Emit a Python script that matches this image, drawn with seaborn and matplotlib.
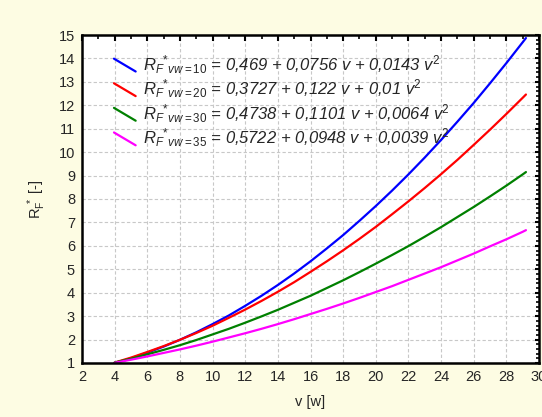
import numpy as np
import pandas as pd
import matplotlib
matplotlib.use("Agg")
import matplotlib.pyplot as plt
from matplotlib.lines import Line2D
from matplotlib.legend_handler import HandlerBase
from matplotlib.ticker import MultipleLocator
import seaborn as sns

# Valores (v de 4 a 29.2)
v = [4, 5, 6, 7, 8, 9, 10, 11, 12, 13, 14, 15, 16, 17, 18, 19, 20,
     21, 22, 23, 24, 25, 26, 27, 28, 29, 29.2]

rf_vw10 = [1.00, 1.20, 1.44, 1.70, 1.99, 2.31, 2.66, 3.03, 3.44, 3.87, 4.33,
           4.82, 5.34, 5.89, 6.46, 7.07, 7.70, 8.36, 9.05, 9.77, 10.52, 11.30,
           12.10, 12.94, 13.80, 14.69, 14.87]
rf_vw20 = [1.02, 1.23, 1.47, 1.72, 1.99, 2.28, 2.59, 2.93, 3.28, 3.65, 4.04,
           4.45, 4.89, 5.34, 5.81, 6.30, 6.81, 7.35, 7.90, 8.47, 9.06, 9.67,
           10.31, 10.96, 11.63, 12.32, 12.46]
rf_vw30 = [1.02, 1.18, 1.37, 1.56, 1.76, 1.98, 2.22, 2.46, 2.72, 2.99, 3.27,
           3.57, 3.87, 4.20, 4.53, 4.88, 5.24, 5.61, 5.99, 6.39, 6.80, 7.23,
           7.66, 8.11, 8.57, 9.05, 9.15]
rf_vw35 = [1.01, 1.14, 1.28, 1.43, 1.58, 1.74, 1.91, 2.09, 2.27, 2.46, 2.66,
           2.87, 3.09, 3.31, 3.54, 3.78, 4.03, 4.28, 4.55, 4.82, 5.09, 5.38,
           5.67, 5.98, 6.28, 6.60, 6.67]

labels = [
    r"$R_F{}^{*}{}_{\mathit{vw=10}}$ = 0,469 + 0,0756 v + 0,0143 v$^{\mathit{2}}$",
    r"$R_F{}^{*}{}_{\mathit{vw=20}}$ = 0,3727 + 0,122 v + 0,01 v$^{\mathit{2}}$",
    r"$R_F{}^{*}{}_{\mathit{vw=30}}$ = 0,4738 + 0,1101 v + 0,0064 v$^{\mathit{2}}$",
    r"$R_F{}^{*}{}_{\mathit{vw=35}}$ = 0,5722 + 0,0948 v + 0,0039 v$^{\mathit{2}}$",
]
cores = ["#0000ff", "#ff0000", "#008000", "#ff00ff"]

x_ticks = list(range(2, 31, 2))
y_ticks = list(range(1, 16))


class DiagonalHandler(HandlerBase):
    """Linha inclinada na legenda, como no original."""

    def create_artists(self, legend, orig_handle, xdescent, ydescent,
                       width, height, fontsize, trans):
        line = Line2D([0, width], [height * 1.0, -height * 0.1],
                      color=orig_handle.get_color(),
                      linewidth=orig_handle.get_linewidth())
        line.set_transform(trans)
        return [line]


df = pd.DataFrame({
    "v": v * 4,
    "rf": rf_vw10 + rf_vw20 + rf_vw30 + rf_vw35,
    "serie": sum([[lab] * len(v) for lab in labels], []),
})

sns.set_style("white")
plt.rcParams["font.family"] = ["Liberation Sans", "DejaVu Sans"]
plt.rcParams["mathtext.fontset"] = "custom"
plt.rcParams["mathtext.rm"] = "Liberation Sans"
plt.rcParams["mathtext.it"] = "Liberation Sans:italic"
plt.rcParams["mathtext.bf"] = "Liberation Sans:bold"

fig = plt.figure(figsize=(5.42, 4.17), dpi=100, facecolor="#fdfce3")
ax = fig.add_axes([82 / 542, 54 / 417, 457 / 542, 328 / 417])
ax.set_facecolor("white")

sns.lineplot(data=df, x="v", y="rf", hue="serie", hue_order=labels,
             palette=cores, linewidth=1.6, ax=ax, legend=False)

ax.set_xlim(2, 30)
ax.set_ylim(1, 15)
ax.set_xticks(x_ticks)
ax.set_yticks(y_ticks)
ax.xaxis.set_minor_locator(MultipleLocator(1))
ax.yaxis.set_minor_locator(MultipleLocator(0.2))
ax.tick_params(which="both", direction="in", top=True, right=True,
               color="black", labelsize=10.5)
ax.tick_params(which="major", length=4, width=1.5, pad=5)
ax.tick_params(which="minor", length=3, width=1.2)
ax.tick_params(axis="y", which="major", length=3)
ax.tick_params(axis="y", which="minor", length=2.5)

ax.grid(True, which="major", linestyle=(0, (3, 2)), color="#c8c8c8", linewidth=0.8)
for s in ax.spines.values():
    s.set_color("black")
    s.set_linewidth(1.8)

ax.set_xlabel("v [w]", fontsize=10.5, labelpad=8)
ax.set_ylabel(r"R$_\mathrm{F}^{\ *}$ [-]", fontsize=10.5, labelpad=8)

handles = [Line2D([], [], color=c, linewidth=1.6) for c in cores]
leg = ax.legend(handles, labels, loc="upper left",
                bbox_to_anchor=(0.07, 0.945), frameon=False,
                borderpad=0, borderaxespad=0, handlelength=1.3,
                handletextpad=0.45, labelspacing=0.12,
                handler_map={Line2D: DiagonalHandler()},
                prop={"size": 12, "style": "italic"})

fig.savefig("out.png", dpi=100, facecolor=fig.get_facecolor())
plt.close(fig)
